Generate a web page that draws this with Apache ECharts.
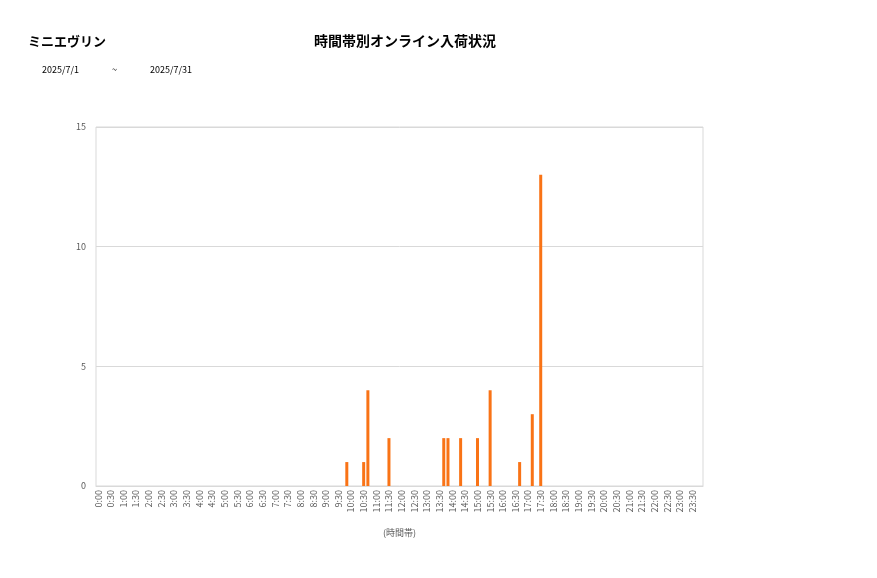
<!DOCTYPE html>
<html>
<head>
<meta charset="utf-8">
<script src="https://cdn.jsdelivr.net/npm/echarts@6/dist/echarts.min.js"></script>
<style>
html,body{margin:0;padding:0;background:#fff;}
#chart{width:877px;height:578px;}
</style>
</head>
<body>
<div id="chart"></div>
<script>
// Tick labels / categories: 10-minute slots across the day
const hours = [0,1,2,3,4,5,6,7,8,9,10,11,12,13,14,15,16,17,18,19,20,21,22,23];
const minutes = ['00','10','20','30','40','50'];
// Observed arrivals (time slot -> count)
const arrivalTimes = ['9:50','10:30','10:40','11:30','13:40','13:50','14:20','15:00','15:30','16:40','17:10','17:30'];
const arrivalCounts = [1,1,4,2,2,2,2,2,4,1,3,13];
const yTicks = [0,5,10,15];

const categories = [];
hours.forEach(h => minutes.forEach(m => categories.push(h + ':' + m)));
const values = categories.map(c => {
  const i = arrivalTimes.indexOf(c);
  return i >= 0 ? arrivalCounts[i] : 0;
});

const FONT = "'Noto Sans CJK JP', 'Noto Sans', sans-serif";
const chart = echarts.init(document.getElementById('chart'), null, {renderer:'canvas'});
chart.setOption({
  animation: false,
  backgroundColor: '#fff',
  textStyle: {fontFamily: FONT},
  graphic: [
    {type:'text', left: 28, top: 35, style:{text:'ミニエヴリン', font:'bold 13px ' + FONT, fill:'#000'}},
    {type:'text', x: 405, y: 34, style:{text:'時間帯別オンライン入荷状況', font:'bold 14px ' + FONT, fill:'#000', textAlign:'center'}},
    {type:'text', left: 42, top: 65, style:{text:'2025/7/1', font:'9px ' + FONT, fill:'#000'}},
    {type:'text', left: 112, top: 65, style:{text:'~', font:'9px ' + FONT, fill:'#000'}},
    {type:'text', left: 150, top: 65, style:{text:'2025/7/31', font:'9px ' + FONT, fill:'#000'}}
  ],
  grid: {left: 96, top: 127, width: 607, height: 359, show: true, borderColor: '#d9d9d9', borderWidth: 1, containLabel: false},
  xAxis: {
    type: 'category',
    data: categories,
    boundaryGap: true,
    name: '(時間帯)',
    nameLocation: 'middle',
    nameGap: 42,
    nameTextStyle: {fontSize: 9, color: '#595959', fontFamily: FONT},
    axisLine: {show: true, lineStyle: {color: '#d9d9d9'}},
    axisTick: {show: false},
    axisLabel: {interval: 2, rotate: 90, fontSize: 9, color: '#595959', margin: 4, fontFamily: FONT},
    splitLine: {show: false}
  },
  yAxis: {
    type: 'value',
    min: yTicks[0],
    max: yTicks[yTicks.length - 1],
    interval: yTicks[1] - yTicks[0],
    axisLine: {show: false},
    axisTick: {show: false},
    axisLabel: {fontSize: 9, color: '#595959', margin: 10, fontFamily: FONT},
    splitLine: {show: true, lineStyle: {color: '#d9d9d9', width: 1}}
  },
  series: [{
    type: 'bar',
    data: values,
    barWidth: 3,
    itemStyle: {color: '#F97316'}
  }]
});
</script>
</body>
</html>
